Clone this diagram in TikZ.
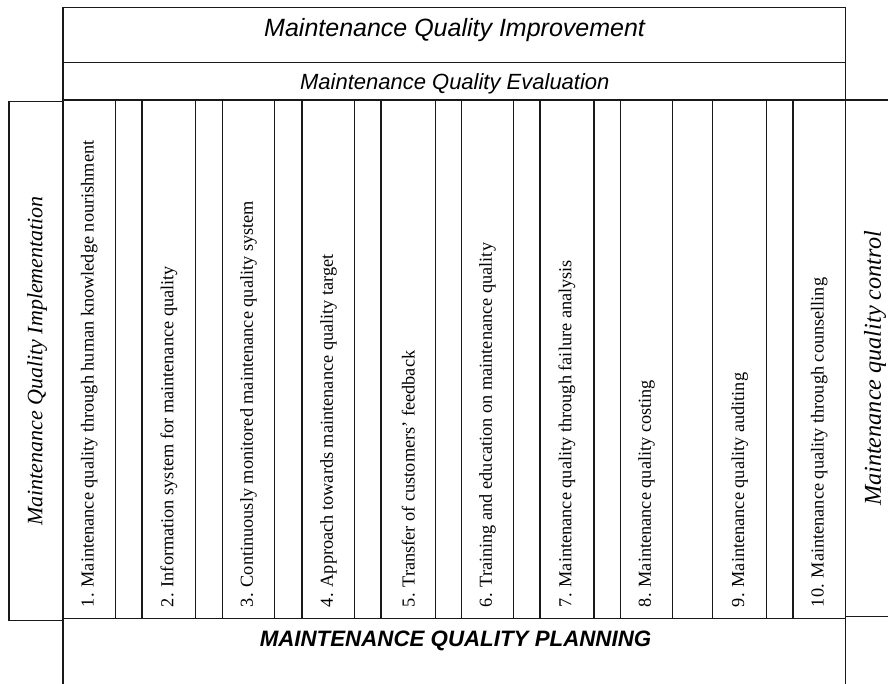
\documentclass[tikz,border=0pt]{standalone}
\usepackage{fontspec}
\setmainfont{Liberation Serif}
\newfontfamily\headfont{Liberation Sans}

\begin{document}
\begin{tikzpicture}[x=1pt,y=-1pt,
  frame/.style={line width=1.3pt, draw=black!90},
  coltext/.style={rotate=90, anchor=west, inner sep=0pt,
    font=\rmfamily\fontsize{18.3}{20}\selectfont},
  sidelabel/.style={rotate=90, inner sep=0pt},
  heading/.style={anchor=base, inner sep=0pt}]
\useasboundingbox (0,0) rectangle (888,684);
\clip (0,0) rectangle (888,684);

% improvement and evaluation bands
\draw[frame] (63,7.5) rectangle (845.7,100);
\draw[frame] (63,62.5) -- (845.7,62.5);

% outer sides of the central block and the planning band
\draw[frame] (63,100) -- (63,700);
\draw[frame] (845.7,100) -- (845.7,700);
\draw[frame] (63,618.3) -- (845.7,618.3);

% column separators
\foreach \x in {115.5,142,195.7,222.3,274.5,302,354.7,381,435.3,461.2,
                513.7,540,594,620.2,672.5,712.7,766.7,793}
  \draw[frame] (\x,100) -- (\x,618.3);

% implementation box on the left
\draw[frame] (63,101.7) -- (9,101.7) -- (9,620.3) -- (63,620.3);

% control box on the right
\draw[frame] (845.7,100) -- (900,100);
\draw[frame] (845.7,616.7) -- (900,616.7);

% headings
\node[heading, font=\headfont\itshape\fontsize{25}{28}\selectfont]
  (improve) at (454.6,36.5) {Maintenance Quality Improvement};
\node[heading, font=\headfont\itshape\fontsize{22}{24}\selectfont]
  (evaluate) at (454.8,89.5) {Maintenance Quality Evaluation};
\node[heading, font=\headfont\bfseries\itshape\fontsize{22.3}{24}\selectfont]
  (plan) at (455.5,646.7) {MAINTENANCE QUALITY PLANNING};

% side labels
\node[sidelabel, font=\rmfamily\itshape\fontsize{22}{24}\selectfont]
  (implement) at (37,361) {Maintenance Quality Implementation};
\node[sidelabel, font=\rmfamily\itshape\fontsize{24.2}{26}\selectfont]
  (control) at (875,368.5) {Maintenance quality control};

% the ten practices
\node[coltext] (p1)  at (89.2,607.3)  {1. Maintenance quality through human knowledge nourishment};
\node[coltext] (p2)  at (168.9,607.3) {2. Information system for maintenance quality};
\node[coltext] (p3)  at (248.4,607.3) {3. Continuously monitored maintenance quality system};
\node[coltext] (p4)  at (328.4,607.3) {4. Approach towards maintenance quality target};
\node[coltext] (p5)  at (408.2,607.3) {5. Transfer of customers’ feedback};
\node[coltext] (p6)  at (487.5,607.3) {6. Training and education on maintenance quality};
\node[coltext] (p7)  at (567,607.3)   {7. Maintenance quality through failure analysis};
\node[coltext] (p8)  at (646.4,607.3) {8. Maintenance quality costing};
\node[coltext] (p9)  at (739.7,607.3) {9. Maintenance quality auditing};
\node[coltext] (p10) at (819.3,607.3) {10. Maintenance quality through counselling};
\end{tikzpicture}
\end{document}
